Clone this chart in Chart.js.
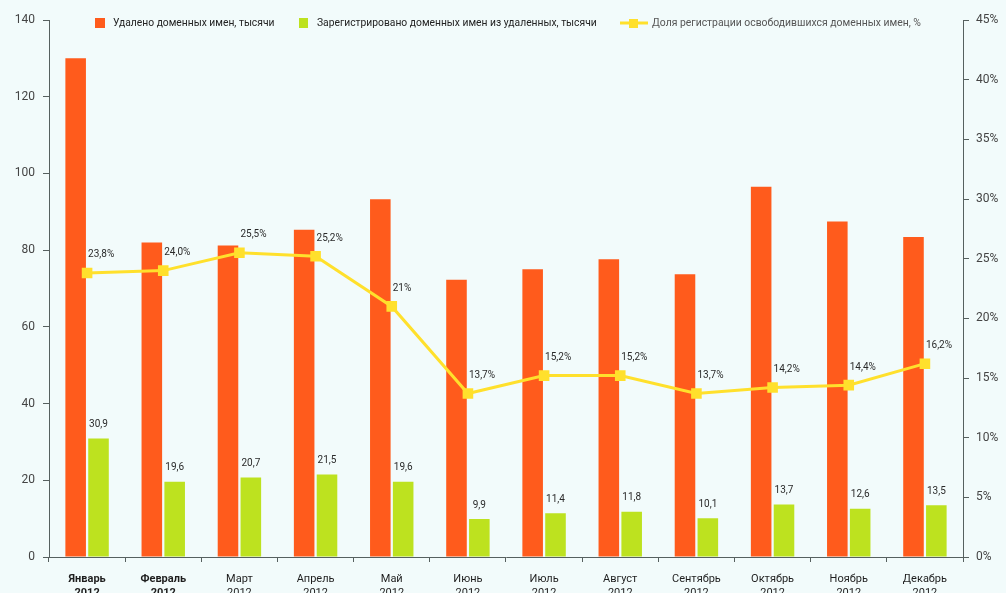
<!DOCTYPE html>
<html>
<head>
<meta charset="utf-8">
<script src="https://cdn.jsdelivr.net/npm/chart.js@4.4.0/dist/chart.umd.min.js"></script>
<style>
	html, body { margin: 0; padding: 0; background: #f2fbfb; overflow: hidden; }
	#wrap { width: 1006px; height: 593px; }
</style>
</head>
<body>
<div id="wrap"><canvas id="canvasdomeny" width="1006" height="593"></canvas></div>
<script>

var bulan = [
	["Январь", "2012"],
	["Февраль", "2012"],
	["Март", "2012"],
	["Апрель", "2012"],
	["Май", "2012"],
	["Июнь", "2012"],
	["Июль", "2012"],
	["Август", "2012"],
	["Сентябрь", "2012"],
	["Октябрь", "2012"],
	["Ноябрь", "2012"],
	["Декабрь", "2012"]
];
var udaleno = [130, 82, 81.2, 85.3, 93.3, 72.3, 75, 77.6, 73.7, 96.5, 87.5, 83.4];
var zaregistrirovano = [30.9, 19.6, 20.7, 21.5, 19.6, 9.9, 11.4, 11.8, 10.1, 13.7, 12.6, 13.5];
var dolya = [23.8, 24.0, 25.5, 25.2, 21, 13.7, 15.2, 15.2, 13.7, 14.2, 14.4, 16.2];
var dolyaLabel = ["23,8%", "24,0%", "25,5%", "25,2%", "21%", "13,7%", "15,2%", "15,2%", "13,7%", "14,2%", "14,4%", "16,2%"];
var ticksKiri = [0, 20, 40, 60, 80, 100, 120, 140];
var ticksKanan = [0, 5, 10, 15, 20, 25, 30, 35, 40, 45];

var legendText = [
	"Удалено доменных имен, тысячи",
	"Зарегистрировано доменных имен из удаленных, тысячи",
	"Доля регистрации освободившихся доменных имен, %"
];

var warnaOranye = "#ff5b1c";
var warnaHijau = "#bde21f";
var warnaKuning = "#ffe02c";
var warnaSumbu = "#56605f";
var fontNama = "Roboto, 'Noto Sans', sans-serif";

// label angka di atas batang hijau dan titik garis
var labelPlugin = {
	id: 'labelangka',
	afterDatasetsDraw: function(chart){
		var ctx = chart.ctx;
		ctx.save();
		ctx.font = "10px " + fontNama;
		ctx.fillStyle = "#2a2a2a";

		var metaHijau = chart.getDatasetMeta(2);
		ctx.textAlign = "center";
		ctx.textBaseline = "bottom";
		metaHijau.data.forEach(function(bar, i){
			ctx.fillText(zaregistrirovano[i].toFixed(1).replace('.', ','), bar.x, bar.y - 9);
		});

		var metaGaris = chart.getDatasetMeta(0);
		ctx.textAlign = "left";
		metaGaris.data.forEach(function(pt, i){
			ctx.fillText(dolyaLabel[i], pt.x + 1, pt.y - 13);
		});
		ctx.restore();
	}
};

// legenda di dalam area grafik
var legendPlugin = {
	id: 'legendadalam',
	afterDraw: function(chart){
		var ctx = chart.ctx;
		var a = chart.chartArea;
		var y = a.top + 3;
		ctx.save();
		ctx.textBaseline = "middle";
		ctx.textAlign = "left";

		ctx.fillStyle = warnaOranye;
		ctx.fillRect(a.left + 46, y - 5, 10, 10);
		ctx.fillStyle = "#222";
		ctx.font = "10.3px " + fontNama;
		ctx.fillText(legendText[0], a.left + 64, y);

		ctx.fillStyle = warnaHijau;
		ctx.fillRect(a.left + 250, y - 5, 9, 10);
		ctx.fillStyle = "#222";
		ctx.fillText(legendText[1], a.left + 268, y);

		ctx.strokeStyle = warnaKuning;
		ctx.lineWidth = 3;
		ctx.beginPath();
		ctx.moveTo(a.left + 571, y);
		ctx.lineTo(a.left + 599, y);
		ctx.stroke();
		ctx.fillStyle = warnaKuning;
		ctx.fillRect(a.left + 580, y - 4, 9, 9);
		ctx.fillStyle = "#555";
		ctx.font = "10.4px " + fontNama;
		ctx.fillText(legendText[2], a.left + 603, y);
		ctx.restore();
	}
};

function init_chart_domeny(){

	if( typeof (Chart) === 'undefined'){ return; }

	var chart_settings = {
		type: 'bar',
		data: {
			labels: bulan,
			datasets: [{
				type: 'line',
				label: legendText[2],
				data: dolya,
				yAxisID: 'kanan',
				borderColor: warnaKuning,
				backgroundColor: warnaKuning,
				borderWidth: 3,
				pointStyle: 'rect',
				pointRadius: 7.5,
				pointHoverRadius: 7.5,
				pointBorderWidth: 0,
				tension: 0,
				order: 0
			}, {
				label: legendText[0],
				data: udaleno,
				yAxisID: 'kiri',
				backgroundColor: warnaOranye,
				categoryPercentage: 0.6,
				barPercentage: 0.9,
				order: 1
			}, {
				label: legendText[1],
				data: zaregistrirovano,
				yAxisID: 'kiri',
				backgroundColor: warnaHijau,
				categoryPercentage: 0.6,
				barPercentage: 0.9,
				order: 1
			}]
		},
		options: {
			responsive: false,
			animation: false,
			layout: { padding: { top: 20, left: 0, right: 0, bottom: 0 } },
			plugins: {
				legend: { display: false },
				tooltip: { enabled: false }
			},
			scales: {
				x: {
					grid: { display: true, drawOnChartArea: false, drawTicks: true, tickLength: 5, color: warnaSumbu, offset: true },
					border: { display: true, color: warnaSumbu, width: 1 },
					ticks: {
						color: "#1e1e1e",
						padding: 10,
						maxRotation: 0,
						autoSkip: false,
						font: function(c){
							return { family: fontNama, size: 11, weight: (c.index < 2 ? 'bold' : 'normal'), lineHeight: 1.3 };
						}
					},
					afterFit: function(s){ s.height = 36; }
				},
				kiri: {
					type: 'linear',
					position: 'left',
					min: ticksKiri[0],
					max: ticksKiri[ticksKiri.length - 1],
					afterBuildTicks: function(s){ s.ticks = ticksKiri.map(function(v){ return { value: v }; }); },
					grid: { display: true, drawOnChartArea: false, drawTicks: true, tickLength: 6, color: warnaSumbu },
					border: { display: true, color: warnaSumbu, width: 1 },
					ticks: { color: "#444", padding: 8, font: { family: fontNama, size: 12 } },
					afterFit: function(s){ s.width = 49; }
				},
				kanan: {
					type: 'linear',
					position: 'right',
					min: ticksKanan[0],
					max: ticksKanan[ticksKanan.length - 1],
					afterBuildTicks: function(s){ s.ticks = ticksKanan.map(function(v){ return { value: v }; }); },
					grid: { display: true, drawOnChartArea: false, drawTicks: true, tickLength: 6, color: warnaSumbu },
					border: { display: true, color: warnaSumbu, width: 1 },
					ticks: {
						color: "#444",
						padding: 7,
						font: { family: fontNama, size: 12 },
						callback: function(v){ return v + '%'; }
					},
					afterFit: function(s){ s.width = 43; }
				}
			}
		},
		plugins: [labelPlugin, legendPlugin]
	};

	var chart_element = document.getElementById('canvasdomeny');
	var chart_domeny = new Chart(chart_element, chart_settings);
}

init_chart_domeny();
</script>
</body>
</html>
